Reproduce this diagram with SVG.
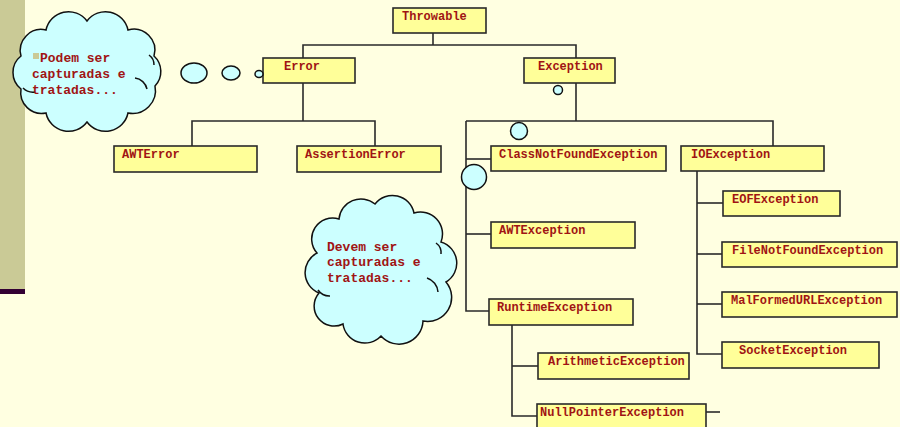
<svg xmlns="http://www.w3.org/2000/svg" width="900" height="427" viewBox="0 0 900 427">
  <style>
    .box { fill: #FFFF99; stroke: #2a2a2a; stroke-width: 1.6; }
    .lbl { font-family: "Liberation Mono", "Courier New", monospace; font-weight: bold; font-size: 12px; fill: #A01414; }
    .cloudtxt { font-family: "Liberation Mono", "Courier New", monospace; font-weight: bold; font-size: 13px; fill: #A01414; }
    .wire { fill: none; stroke: #2a2a2a; stroke-width: 1.6; }
    .bubble { fill: #CCFFFF; stroke: #111; stroke-width: 1.5; }
    .crease { fill: none; stroke: #111; stroke-width: 1.5; }
  </style>

  <!-- page background and left margin band -->
  <rect x="0" y="0" width="900" height="427" fill="#FFFFE1"/>
  <rect x="0" y="0" width="25" height="289" fill="#CACA96"/>
  <rect x="0" y="289" width="25" height="5" fill="#330033"/>

  <!-- hierarchy lines -->
  <g id="connectors" class="wire">
    <polyline points="433,33 433,45"/>
    <polyline points="303,58 303,45 576,45 576,58"/>
    <polyline points="303,83 303,121"/>
    <polyline points="192,146 192,121 375,121 375,146"/>
    <polyline points="576,83 576,121"/>
    <polyline points="466,121 773,121 773,146"/>
    <polyline points="466,121 466,311 489,311"/>
    <polyline points="466,159 491,159"/>
    <polyline points="466,234 491,234"/>
    <polyline points="512,325 512,416 537,416"/>
    <polyline points="512,366 538,366"/>
    <polyline points="706,412 720,412"/>
    <polyline points="697,171 697,354 722,354"/>
    <polyline points="697,203 723,203"/>
    <polyline points="697,254 722,254"/>
    <polyline points="697,304 722,304"/>
  </g>

  <g id="throwable"><rect class="box" x="393" y="8" width="93" height="25"/><text class="lbl" x="402" y="20">Throwable</text></g>
  <g id="error"><rect class="box" x="263" y="58" width="92" height="25"/><text class="lbl" x="284" y="70">Error</text></g>
  <g id="exception"><rect class="box" x="524" y="58" width="91" height="25"/><text class="lbl" x="538" y="70">Exception</text></g>
  <g id="awt-error"><rect class="box" x="114" y="146" width="143" height="26"/><text class="lbl" x="122" y="158">AWTError</text></g>
  <g id="assertion-error"><rect class="box" x="297" y="146" width="144" height="26"/><text class="lbl" x="305" y="158">AssertionError</text></g>
  <g id="class-not-found"><rect class="box" x="491" y="146" width="175" height="25"/><text class="lbl" x="499" y="158">ClassNotFoundException</text></g>
  <g id="io-exception"><rect class="box" x="681" y="146" width="143" height="25"/><text class="lbl" x="691" y="158">IOException</text></g>
  <g id="awt-exception"><rect class="box" x="491" y="222" width="144" height="26"/><text class="lbl" x="499" y="234">AWTException</text></g>
  <g id="runtime-exception"><rect class="box" x="489" y="299" width="144" height="26"/><text class="lbl" x="497" y="311">RuntimeException</text></g>
  <g id="arithmetic-exception"><rect class="box" x="538" y="353" width="151" height="26"/><text class="lbl" x="548" y="365">ArithmeticException</text></g>
  <g id="null-pointer-exception"><rect class="box" x="537" y="404" width="169" height="27"/><text class="lbl" x="540" y="416">NullPointerException</text></g>
  <g id="eof-exception"><rect class="box" x="723" y="191" width="117" height="25"/><text class="lbl" x="732" y="203">EOFException</text></g>
  <g id="file-not-found"><rect class="box" x="722" y="242" width="175" height="25"/><text class="lbl" x="732" y="254">FileNotFoundException</text></g>
  <g id="malformed-url"><rect class="box" x="722" y="292" width="175" height="25"/><text class="lbl" x="731" y="304">MalFormedURLException</text></g>
  <g id="socket-exception"><rect class="box" x="722" y="342" width="157" height="26"/><text class="lbl" x="739" y="354">SocketException</text></g>

  <!-- thought bubble trailing toward Error -->
  <g id="error-bubbles">
    <ellipse class="bubble" cx="194" cy="73" rx="13" ry="10"/>
    <ellipse class="bubble" cx="231" cy="73" rx="9" ry="7"/>
    <ellipse class="bubble" cx="259" cy="74" rx="4" ry="3.5"/>
  </g>

  <!-- thought bubble trailing toward the checked exceptions -->
  <g id="exception-bubbles">
    <circle class="bubble" cx="558" cy="90" r="4.5"/>
    <circle class="bubble" cx="519" cy="131" r="8.5"/>
    <circle class="bubble" cx="474" cy="177" r="12.5"/>
  </g>

  <g id="cloud-error">
    <path class="bubble" d="M21,56 A21,21 0 0 1 46,30 A23,23 0 0 1 87,21 A23,23 0 0 1 128,30 A21,21 0 0 1 154,56 A21,21 0 0 1 155,86 A23,23 0 0 1 128,113 A23,23 0 0 1 87,122 A23,23 0 0 1 46,113 A21,21 0 0 1 21,89 A21,21 0 0 1 21,56 Z"/>
    <path class="crease" d="M135,78 A14,14 0 0 1 147,89"/>
    <path class="crease" d="M23,88 A14,14 0 0 0 35,92"/>
    <path class="crease" d="M149,55 A12,12 0 0 1 154,65"/>
    <rect x="33" y="53" width="6" height="6" fill="#CACA96"/>
    <text class="cloudtxt" x="40" y="62">Podem ser</text>
    <text class="cloudtxt" x="32" y="78">capturadas e</text>
    <text class="cloudtxt" x="32" y="94">tratadas...</text>
  </g>

  <g id="cloud-exception">
    <path class="bubble" d="M317,253 A21,21 0 0 1 339,219 A22,22 0 0 1 375,204 A22,22 0 0 1 414,213 A22,22 0 0 1 441,242 A22,22 0 0 1 446,282 A24,24 0 0 1 423,321 A24,24 0 0 1 381,336 A22,22 0 0 1 343,324 A20,20 0 0 1 319,293 A22,22 0 0 1 317,253 Z"/>
    <path class="crease" d="M427,278 A16,16 0 0 1 438,292"/>
    <path class="crease" d="M318,290 A14,14 0 0 0 330,296"/>
    <path class="crease" d="M436,243 A12,12 0 0 1 441,254"/>
    <text class="cloudtxt" x="327" y="251">Devem ser</text>
    <text class="cloudtxt" x="327" y="266">capturadas e</text>
    <text class="cloudtxt" x="327" y="282">tratadas...</text>
  </g>
</svg>
